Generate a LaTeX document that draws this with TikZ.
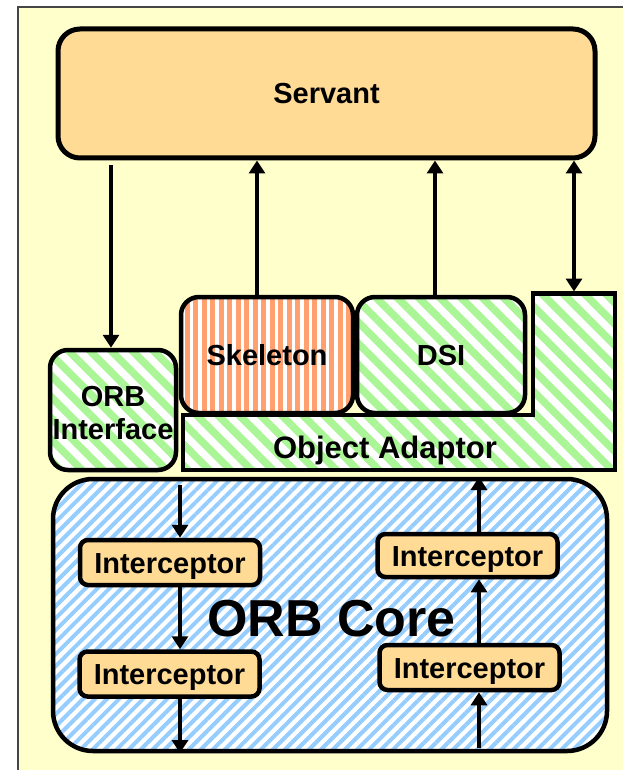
\documentclass[tikz,border=0pt]{standalone}
\usepackage{fontspec}
\setmainfont{Liberation Sans}
\usetikzlibrary{arrows.meta,patterns.meta,calc}

\definecolor{paper}{RGB}{255,255,204}
\definecolor{servfill}{RGB}{255,219,150}
\definecolor{grn}{RGB}{170,245,150}
\definecolor{blu}{RGB}{150,205,255}
\definecolor{org}{RGB}{255,160,110}
\definecolor{framegray}{RGB}{70,70,70}

\begin{document}
\begin{tikzpicture}[x=1pt,y=-1pt,
  txt/.style={font=\bfseries\fontsize{29}{30}\selectfont,inner sep=0pt,
    text height=21pt,text depth=0pt,align=center},
  box/.style={txt,draw=black,line width=4.5pt},
  greenhatch/.style={preaction={fill=white},
    pattern={Lines[angle=-45,distance=15pt,line width=7.5pt]},pattern color=grn},
  bluehatch/.style={preaction={fill=white},
    pattern={Lines[angle=45,distance=8.5pt,line width=4pt]},pattern color=blu},
  orangestripes/.style={preaction={fill=white},
    pattern={Lines[angle=90,distance=8.5pt,line width=5pt]},pattern color=org},
  icbox/.style={box,fill=servfill,rounded corners=8pt,
    minimum width=180pt,minimum height=45pt},
  tip/.tip={Triangle[length=13pt,width=16pt]},
  arr/.style={line width=4pt,-tip},
  darr/.style={line width=4pt,tip-tip}
]
\useasboundingbox (0,0) rectangle (622,770);

% page background and frame
\fill[paper] (18,7) rectangle (640,790);
\draw[framegray,line width=2pt] (18,790) -- (18,7) -- (640,7);

% servant
\node[box,line width=5pt,fill=servfill,rounded corners=22pt,
  minimum width=537pt,minimum height=129pt] (servant) at (326.5,93.5) {Servant};

% object adaptor (stepped outline)
\draw[line width=4.5pt,greenhatch] (183,415) -- (533,415) -- (533,293.5)
  -- (615,293.5) -- (615,470) -- (183,470) -- cycle;
\node[txt,font=\bfseries\fontsize{31}{32}\selectfont,text height=22pt] (oa) at (385,447.5) {Object Adaptor};
\coordinate (tower) at (574,291.5);

% skeleton and DSI
\node[box,orangestripes,rounded corners=18pt,
  minimum width=172pt,minimum height=116pt] (skel) at (267,355) {Skeleton};
\node[box,greenhatch,rounded corners=18pt,
  minimum width=168pt,minimum height=116pt] (dsi) at (441,355) {DSI};

% ORB interface
\node[box,greenhatch,rounded corners=18pt,
  minimum width=126pt,minimum height=120pt] (orbi) at (113,410) {};
\node[font=\bfseries\fontsize{29}{33}\selectfont,align=center,inner sep=0pt] (orbitext) at (113,413) {ORB\\Interface};

% ORB core
\node[box,bluehatch,rounded corners=40pt,
  minimum width=554pt,minimum height=272pt] (core) at (330,615) {};
\node[txt,font=\bfseries\fontsize{52}{54}\selectfont,text height=37pt] (coretext) at (331.5,617.5) {ORB Core};

% interceptors
\node[icbox] (l1) at (170,562.5) {Interceptor};
\node[icbox] (l2) at (169.5,674) {Interceptor};
\node[icbox,minimum height=43pt] (r1) at (467.5,555.5) {Interceptor};
\node[icbox] (r2) at (469.5,667.5) {Interceptor};

% connector columns
\coordinate (ax) at (111,0);
\coordinate (bx) at (257,0);
\coordinate (cx) at (435,0);
\coordinate (dx) at (574,0);
\coordinate (lx) at (180,0);
\coordinate (rx) at (479,0);
\coordinate (topstart) at (111,165);
\coordinate (lstart) at (180,485);
\coordinate (rstart) at (479,748);

% servant connectors
\draw[arr] (topstart) -- (orbi.north -| ax);
\draw[arr] (skel.north -| bx) -- (servant.south -| bx);
\draw[arr] (dsi.north -| cx) -- (servant.south -| cx);
\draw[darr] (servant.south -| dx) -- (tower);

% outgoing chain
\draw[arr] (lstart) -- (l1.north -| lx);
\draw[arr] (l1.south -| lx) -- (l2.north -| lx);
\draw[arr] (l2.south -| lx) -- (core.south -| lx);

% incoming chain
\draw[arr] (rstart) -- (r2.south -| rx);
\draw[arr] (r2.north -| rx) -- (r1.south -| rx);
\draw[arr] (r1.north -| rx) -- (core.north -| rx);
\end{tikzpicture}
\end{document}
